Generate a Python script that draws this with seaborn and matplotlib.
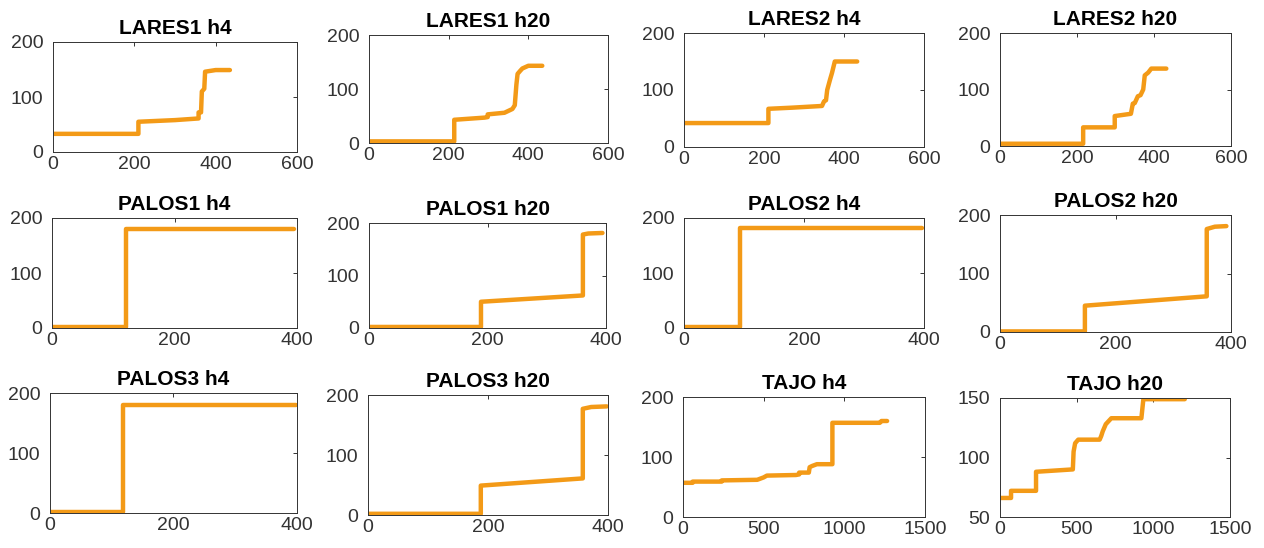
import matplotlib
matplotlib.use("Agg")
import matplotlib.pyplot as plt
import seaborn as sns

# ---- series: cumulative curves per station / horizon ----
lares1_h4_x = [0, 210, 210, 300, 358, 358, 364, 366, 372, 374, 400, 435]
lares1_h4_y = [33, 33, 55, 58, 61, 72, 72, 110, 115, 146, 149, 149]

lares1_h20_x = [0, 214, 214, 290, 298, 298, 340, 360, 366, 370, 373, 380, 385, 400, 435]
lares1_h20_y = [3, 3, 43, 47, 48, 53, 56, 63, 70, 108, 128, 134, 138, 143, 143]

lares2_h4_x = [0, 211, 211, 270, 345, 350, 355, 358, 365, 370, 377, 433]
lares2_h4_y = [42, 42, 67, 69, 72, 80, 82, 100, 118, 130, 150, 150]

lares2_h20_x = [0, 216, 216, 298, 298, 340, 345, 350, 358, 365, 372, 376, 385, 393, 432]
lares2_h20_y = [4, 4, 33, 33, 53, 57, 75, 76, 88, 90, 100, 125, 130, 137, 137]

palos1_h4_x = [0, 121, 121, 395]
palos1_h4_y = [2, 2, 180, 180]

palos1_h20_x = [0, 189, 189, 361, 361, 370, 394]
palos1_h20_y = [2, 2, 50, 62, 178, 180, 181]

palos2_h4_x = [0, 94, 94, 396]
palos2_h4_y = [1, 1, 181, 181]

palos2_h20_x = [0, 147, 147, 358, 358, 372, 392]
palos2_h20_y = [1, 1, 45, 61, 176, 180, 181]

palos3_h4_x = [0, 119, 119, 398]
palos3_h4_y = [2, 2, 180, 180]

palos3_h20_x = [0, 188, 188, 358, 358, 372, 398]
palos3_h20_y = [2, 2, 49, 61, 177, 180, 181]

tajo_h4_x = [0, 60, 60, 240, 240, 460, 500, 520, 700, 720, 720, 780, 785, 800, 830,
             926, 926, 1220, 1230, 1265]
tajo_h4_y = [57, 57, 59, 59, 61, 62, 66, 69, 70, 71, 74, 74, 83, 85, 88,
             88, 157, 157, 160, 160]

tajo_h20_x = [0, 72, 72, 235, 235, 475, 480, 490, 510, 650, 660, 670, 690, 726, 922, 935, 1205]
tajo_h20_y = [66, 66, 72, 72, 88, 90, 105, 112, 115, 115, 118, 122, 128, 133, 133, 149, 149]

titles = ["LARES1 h4", "LARES1 h20", "LARES2 h4", "LARES2 h20",
          "PALOS1 h4", "PALOS1 h20", "PALOS2 h4", "PALOS2 h20",
          "PALOS3 h4", "PALOS3 h20", "TAJO h4", "TAJO h20"]

series = [(lares1_h4_x, lares1_h4_y), (lares1_h20_x, lares1_h20_y),
          (lares2_h4_x, lares2_h4_y), (lares2_h20_x, lares2_h20_y),
          (palos1_h4_x, palos1_h4_y), (palos1_h20_x, palos1_h20_y),
          (palos2_h4_x, palos2_h4_y), (palos2_h20_x, palos2_h20_y),
          (palos3_h4_x, palos3_h4_y), (palos3_h20_x, palos3_h20_y),
          (tajo_h4_x, tajo_h4_y), (tajo_h20_x, tajo_h20_y)]

lares_xticks = [0, 200, 400, 600]
palos_xticks = [0, 200, 400]
tajo_xticks = [0, 500, 1000, 1500]
yticks_default = [0, 100, 200]
yticks_tajo_h20 = [50, 100, 150]

xticks = [lares_xticks] * 4 + [palos_xticks] * 6 + [tajo_xticks] * 2
yticks = [yticks_default] * 11 + [yticks_tajo_h20]

# ---- layout (pixel boxes: left, top, right, bottom) ----
W, H = 1264, 548
boxes = [(53, 42, 297, 152), (369, 35, 608, 143), (684, 33, 924, 147), (1000, 33, 1231, 146),
         (52, 218, 297, 328), (369, 223, 606, 328), (684, 218, 924, 328), (1000, 215, 1231, 332),
         (50, 393, 297, 513), (368, 395, 608, 515), (683, 397, 925, 517), (1000, 398, 1230, 517)]

sns.set_theme(style="white")
plt.rcParams["font.family"] = ["Liberation Sans", "DejaVu Sans"]

line_color = "#F39A17"
edge_color = "#333333"

fig = plt.figure(figsize=(W / 100, H / 100), dpi=100)
fig.patch.set_facecolor("white")

for (l, t, r, b), title, (xs, ys), xt, yt in zip(boxes, titles, series, xticks, yticks):
    ax = fig.add_axes([l / W, 1 - b / H, (r - l) / W, (b - t) / H])
    sns.lineplot(x=xs, y=ys, ax=ax, sort=False, estimator=None,
                 color=line_color, linewidth=3.2)
    ax.set_xlim(xt[0], xt[-1])
    ax.set_ylim(yt[0], yt[-1])
    ax.set_xticks(xt)
    ax.set_yticks(yt)
    ax.tick_params(direction="in", top=True, right=True, length=3, width=0.7,
                   colors=edge_color, labelsize=14, pad=3)
    ax.tick_params(axis="y", pad=7)
    for sp in ax.spines.values():
        sp.set_color(edge_color)
        sp.set_linewidth(0.7)
    ax.set_title(title, fontsize=15, fontweight="bold", color="black", pad=6)
    ax.set_xlabel("")
    ax.set_ylabel("")

fig.savefig("out.png", dpi=100, facecolor="white")
